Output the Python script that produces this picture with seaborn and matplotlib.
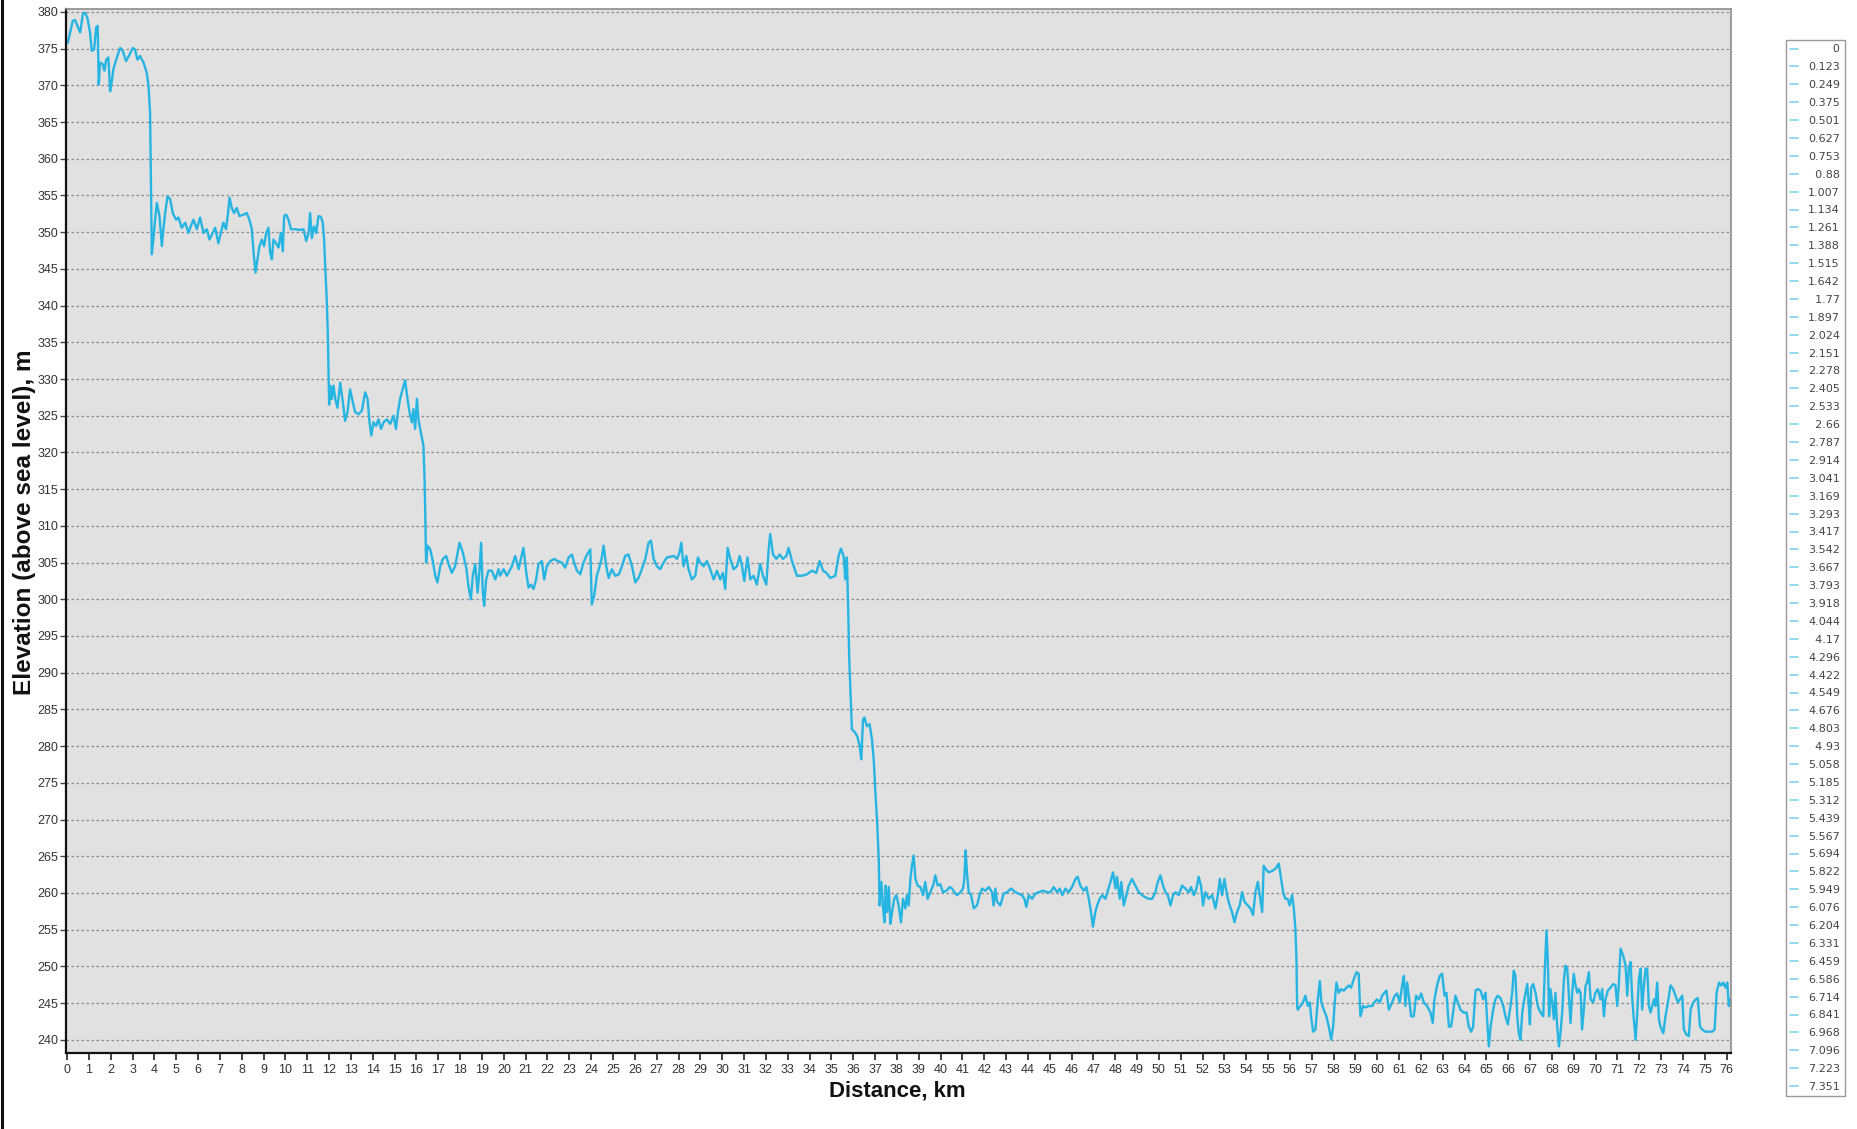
import matplotlib
matplotlib.use("Agg")
import matplotlib.pyplot as plt
from matplotlib.lines import Line2D
import numpy as np
import pandas as pd
import seaborn as sns

# ---------------- data ----------------
seg1_km = [0.03,0.14,0.26,0.37,0.47,0.60,0.72,0.82,0.93,1.05,1.13,1.24,1.33,1.40,1.45,1.51,1.63,1.71,1.79,1.89,
           1.97,2.05,2.12,2.28,2.43,2.55,2.70,2.86,3.01,3.11,3.22,3.34,3.50,3.65,3.73,3.80,3.83,3.88,3.95,4.03,
           4.11,4.23,4.34,4.41,4.49,4.60,4.72,4.84,4.99,5.10,5.25,5.41,5.56,5.66,5.79,5.94,6.09,6.25,6.40,6.52,
           6.67,6.78,6.93,7.04,7.16,7.28,7.37,7.44,7.54,7.65,7.77,7.89,8.08,8.23,8.35,8.46,8.54,8.63,8.72,8.81,
           8.92,9.02,9.12,9.22,9.30,9.38,9.45,9.57,9.68,9.79,9.88,9.94,10.03,10.14,10.25,10.44,10.67,10.83,10.95,11.06,
           11.13,11.21,11.31,11.41,11.51,11.62,11.71,11.77,11.82,11.89,11.94]
seg1_m = [375.8,377.2,378.8,378.9,378.1,377.2,379.7,379.9,379.2,377.2,374.7,374.9,377.9,378.1,370.1,373.1,372.9,372.0,373.5,373.8,
          369.2,370.6,372.2,373.8,375.1,374.7,373.3,374.2,375.1,374.9,373.5,374.0,373.1,371.7,369.9,366.3,359.0,347.0,349.0,351.7,
          354.0,352.2,348.1,350.4,352.6,354.9,354.5,352.6,351.7,352.0,350.6,351.3,349.9,350.8,351.7,350.4,352.0,349.9,350.4,349.0,
          349.9,350.6,348.5,349.9,351.3,350.4,352.6,354.7,353.3,352.6,353.3,352.2,352.4,352.6,351.7,350.4,347.2,344.5,346.3,348.1,
          349.0,348.1,349.9,350.6,347.2,346.3,349.0,348.5,347.9,349.9,347.4,352.2,352.4,351.7,350.4,350.4,350.3,350.4,348.8,349.9,
          352.6,349.2,350.8,349.9,352.2,352.1,351.3,349.0,345.4,340.8,336.3]

seg2_km = [12.00,12.05,12.12,12.20,12.28,12.38,12.51,12.63,12.73,12.84,12.96,13.09,13.19,13.35,13.50,13.65,13.76,13.85,13.93,14.03,
           14.15,14.26,14.38,14.49,14.64,14.80,14.95,15.06,15.15,15.25,15.41,15.48,15.59,15.68,15.79,15.86,15.94,16.02,16.09,16.20,
           16.32,16.37,16.41,16.44,16.51,16.63,16.75,16.86,16.96,17.09,17.21,17.36,17.47,17.62,17.77,17.97,18.12,18.28,18.38,18.49,
           18.58,18.69,18.80,18.89,18.96,19.04,19.10,19.19,19.30,19.45,19.61,19.76]
seg2_m = [326.5,329.1,327.3,329.1,327.3,326.1,329.5,326.8,324.3,325.5,328.6,326.8,325.5,325.2,325.7,328.2,327.3,324.1,322.3,324.1,
          323.6,324.5,323.2,324.1,324.5,323.9,325.0,323.2,325.5,327.3,329.1,329.8,327.3,325.5,324.1,325.9,323.2,327.3,324.5,322.7,
          320.9,316.4,310.5,305.0,307.3,306.8,305.2,303.2,302.3,304.5,305.5,305.9,304.8,303.6,304.5,307.7,306.4,304.3,301.8,300.0,
          303.2,304.8,300.9,304.1,307.7,300.9,299.1,302.7,303.9,303.9,302.7,304.1]

seg3_km = [19.83,19.99,20.14,20.37,20.52,20.68,20.78,20.90,21.03,21.13,21.24,21.36,21.48,21.59,21.74,21.85,21.97,22.13,22.31,22.46,
           22.66,22.81,22.97,23.12,23.22,23.35,23.50,23.65,23.81,23.96,24.03,24.14,24.26,24.39,24.49,24.57,24.69,24.80,24.95,25.10,
           25.27,25.41,25.56,25.71,25.87,26.02,26.17,26.32,26.48,26.63,26.74,26.86,27.01,27.16,27.32,27.47,27.62,27.78,27.93,28.05,
           28.13,28.23,28.36,28.46,28.61,28.77,28.89,28.99,29.15,29.30,29.45,29.61,29.76,29.91,30.03,30.14,30.25,30.37,30.52,30.68,
           30.80,30.91,31.01,31.16,31.29,31.44,31.59,31.74,31.87,32.02,32.13,32.20,32.33,32.48,32.63,32.78,32.94,33.04,33.20,33.42,
           33.65,33.88,34.11,34.31,34.46,34.62,34.77,34.95,35.18,35.33,35.44,35.56,35.64,35.71,35.76,35.82]
seg3_m = [303.2,304.1,303.2,304.5,305.9,304.1,305.5,307.0,303.6,301.6,302.0,301.4,302.7,304.8,305.2,302.7,304.5,305.2,305.5,305.2,
          305.0,304.3,305.7,306.1,305.0,303.9,303.4,305.0,306.1,306.8,299.3,300.5,303.2,304.5,305.7,307.3,304.5,302.9,304.1,303.2,
          303.4,304.5,305.9,306.1,304.5,302.3,302.9,304.1,305.5,307.7,308.0,305.5,304.5,304.1,305.0,305.7,305.8,305.9,305.5,306.4,
          307.7,304.5,305.9,304.1,302.7,303.2,305.7,305.0,304.5,305.2,304.1,302.7,303.9,302.7,303.6,301.4,307.0,305.5,304.1,304.5,
          305.9,304.5,302.5,305.7,302.7,303.2,302.0,304.8,303.2,302.0,306.8,308.9,306.1,305.5,306.1,305.5,305.9,307.0,305.2,303.2,
          303.2,303.4,303.9,303.6,305.2,303.9,303.6,302.9,303.2,305.9,306.9,305.9,302.7,305.7,300.0,291.8]

seg4_km = [35.94,36.10,36.20,36.30,36.37,36.45,36.51,36.63,36.75,36.86,36.94,37.01,37.09,37.17,37.21,37.29,37.36,37.43,37.49,37.55,
           37.63,37.70,37.78,37.88,37.98,38.08,38.19,38.28,38.39,38.46,38.54,38.62,38.69,38.77,38.85,38.95,39.08,39.20,39.30,39.41,
           39.53,39.66,39.76,39.87,39.99,40.11,40.27,40.42,40.53,40.63,40.75,40.91,41.03,41.09,41.15,41.21,41.29,41.40,41.52,41.67,
           41.79,41.90,42.05,42.21,42.36,42.43,42.51,42.59,42.74,42.89,43.05,43.23,43.43,43.58,43.73,43.84,43.93,44.04,44.19,44.34,
           44.50,44.69,44.88,45.03,45.18,45.34,45.46,45.58,45.72,45.87,46.02,46.18,46.28,46.40,46.56,46.68,46.79,46.89,46.98,47.09,
           47.17,47.29,47.40,47.55,47.66,47.78,47.90,48.01,48.08,48.21,48.28,48.39,48.51,48.62,48.77,48.92,49.08,49.23,49.38,49.54,
           49.69,49.84,49.95,50.07,50.19,50.30,50.41,50.53,50.65,50.76,50.91,51.06,51.21,51.37,51.47,51.60,51.72,51.82,51.93,52.02,
           52.13,52.28,52.44,52.59,52.70,52.79,52.89,53.00,53.12,53.24,53.35,53.46,53.58,53.70,53.81,53.92,54.07,54.19,54.31,54.42,
           54.53,54.62,54.73,54.80,54.88,55.03,55.18,55.34,55.49,55.57,55.69,55.79,55.90,55.99,56.10,56.18,56.25]
seg4_m = [282.3,281.8,281.2,280.0,278.2,283.6,283.9,282.7,283.0,280.9,278.2,274.1,270.1,264.6,258.3,261.5,258.3,256.0,261.0,257.4,
          260.8,255.8,257.4,259.2,259.7,258.3,256.0,259.2,257.9,259.7,258.3,261.9,263.7,265.1,261.9,261.0,260.8,259.7,261.5,259.2,
          260.1,261.0,262.4,261.0,261.2,260.1,260.3,260.8,260.6,260.1,259.7,260.1,260.6,261.9,265.8,262.8,260.1,259.7,257.9,258.3,
          259.7,260.6,260.3,260.8,260.1,258.3,260.6,258.8,258.3,259.9,260.1,260.6,260.1,259.9,259.7,259.2,258.1,259.7,259.2,259.9,
          260.1,260.3,260.1,260.1,260.8,260.1,260.6,259.7,260.6,260.1,260.8,261.9,262.2,261.0,260.3,260.8,259.2,257.4,255.4,257.4,
          258.3,259.2,259.7,259.2,260.3,261.5,262.8,260.6,262.2,259.2,261.5,258.3,259.7,261.0,261.9,261.0,260.1,259.7,259.4,259.2,
          259.2,260.1,261.5,262.4,261.0,260.1,259.7,258.3,259.7,260.1,259.7,261.0,260.6,260.1,260.8,259.7,260.6,262.2,261.0,258.3,
          260.1,259.2,259.7,257.9,259.7,261.9,259.7,261.9,259.7,258.3,257.4,256.0,257.4,258.3,260.1,258.8,258.3,257.9,257.0,260.1,
          261.5,259.7,257.4,263.7,263.3,262.8,263.0,263.3,264.0,262.4,260.1,259.2,259.2,258.3,259.7,257.9,255.1]

seg5_km = [56.30,56.33,56.36,56.48,56.60,56.71,56.82,56.91,56.97,57.06,57.17,57.28,57.37,57.44,57.55,57.67,57.78,57.89,57.98,58.04,
           58.13,58.24,58.35,58.47,58.59,58.70,58.80,58.93,59.05,59.15,59.23,59.35,59.46,59.61,59.77,59.87,59.99,60.12,60.22,60.33,
           60.42,60.53,60.68,60.80,60.91,61.03,61.14,61.22,61.29,61.37,61.48,61.55,61.67,61.78,61.90,62.01,62.13,62.28,62.44,62.54,
           62.62,62.74,62.86,62.97,63.08,63.17,63.28,63.38,63.51,63.58,63.69,63.81,63.96,64.09,64.19,64.30,64.39,64.50,64.61,64.73,
           64.85,64.96,65.03,65.11,65.19,65.31,65.41,65.52,65.64,65.77,65.87,65.98,66.10,66.18,66.25,66.33,66.41,66.48,66.56,66.64,
           66.71,66.79,66.87,66.94,66.99,67.05,67.14,67.25,67.35,67.48,67.60,67.67,67.75,67.81,67.87,67.93,68.01,68.09,68.16,68.24,
           68.32,68.39,68.47,68.55,68.62,68.70,68.77,68.85,68.93,69.00,69.08,69.16,69.23,69.31,69.38,69.46,69.54,69.61,69.69,69.77,
           69.89,69.99,70.10,70.22,70.30,70.38,70.45,70.56,70.68,70.81,70.91,70.99,71.06,71.14,71.26,71.37,71.45,71.52,71.60,71.68,
           71.75,71.83,71.90,71.98,72.06,72.13,72.21,72.29,72.36,72.44,72.52,72.59,72.67,72.74,72.82,72.90,72.97,73.10,73.20,73.31,
           73.43,73.55,73.66,73.77,73.86,73.97,74.04,74.16,74.27,74.35,74.47,74.58,74.68,74.78,74.88,75.03,75.19,75.34,75.45,75.54,
           75.65,75.75,75.84,75.95,76.03,76.10,76.15]
seg5_m = [251.0,244.6,244.1,244.6,245.1,246.0,244.6,245.1,243.2,241.1,241.4,245.5,248.0,245.1,244.1,243.2,241.8,240.0,241.8,244.6,
          247.8,246.4,246.9,246.7,247.1,247.4,247.1,248.3,249.2,249.0,243.2,244.6,244.4,244.6,244.6,245.1,245.5,245.1,246.0,246.4,
          246.7,244.1,245.1,246.0,246.3,245.1,247.4,248.7,244.6,247.8,245.1,243.2,243.2,246.0,245.5,246.3,245.1,244.6,243.7,242.3,
          245.5,247.4,248.7,249.0,246.0,246.4,241.8,241.8,244.6,246.0,245.1,244.1,243.7,243.7,241.8,241.1,241.8,246.7,246.9,246.7,
          245.5,246.4,242.8,239.1,241.8,244.1,245.5,246.0,245.7,244.6,243.2,242.1,244.6,246.4,249.4,248.7,243.2,240.9,240.0,243.7,
          245.1,246.4,247.6,244.6,242.1,247.1,247.6,246.4,244.6,243.7,243.2,249.2,254.9,251.0,243.2,246.9,245.1,242.8,246.4,241.8,
          239.1,240.9,243.7,248.3,250.1,249.7,246.4,242.3,246.4,249.0,247.4,246.4,246.9,246.4,241.4,244.1,247.4,247.8,249.2,245.5,
          245.1,246.4,246.9,245.5,246.9,243.2,245.5,246.7,247.1,247.6,247.4,244.6,247.4,252.4,251.5,250.1,246.0,249.7,250.6,245.5,
          242.8,240.0,243.2,248.3,249.7,244.1,247.4,249.7,249.7,244.6,243.7,244.6,245.5,244.6,247.8,242.8,241.8,240.9,243.2,245.1,
          247.4,246.9,246.0,245.1,245.5,246.0,241.4,240.7,240.5,244.1,245.1,245.5,245.7,241.8,241.4,241.1,241.1,241.1,241.4,246.4,
          247.8,247.4,247.8,247.1,247.8,244.6,245.5]

x_ticks = list(range(0, 77))
y_ticks = list(range(240, 381, 5))
legend_labels = ["0", "0.123", "0.249", "0.375", "0.501", "0.627", "0.753", "0.88", "1.007", "1.134",
                 "1.261", "1.388", "1.515", "1.642", "1.77", "1.897", "2.024", "2.151", "2.278", "2.405",
                 "2.533", "2.66", "2.787", "2.914", "3.041", "3.169", "3.293", "3.417", "3.542", "3.667",
                 "3.793", "3.918", "4.044", "4.17", "4.296", "4.422", "4.549", "4.676", "4.803", "4.93",
                 "5.058", "5.185", "5.312", "5.439", "5.567", "5.694", "5.822", "5.949", "6.076", "6.204",
                 "6.331", "6.459", "6.586", "6.714", "6.841", "6.968", "7.096", "7.223", "7.351"]

# ---------------- build table ----------------
df = pd.DataFrame({
    "Distance, km": np.concatenate([seg1_km, seg2_km, seg3_km, seg4_km, seg5_km]),
    "Elevation": np.concatenate([seg1_m, seg2_m, seg3_m, seg4_m, seg5_m]),
})

# ---------------- style ----------------
sns.set_style("white")
plt.rcParams["font.family"] = ["Liberation Sans Narrow", "Liberation Sans", "DejaVu Sans"]

LINE = "#26b4e2"
fig = plt.figure(figsize=(18.57, 11.29), dpi=100)
W, H = 1857, 1129
L, R, T, B = 66, 1731, 9, 1053
ax = fig.add_axes([L / W, (H - B) / H, (R - L) / W, (B - T) / H])
ax.set_facecolor("#e1e1e1")

sns.lineplot(data=df, x="Distance, km", y="Elevation", ax=ax, color=LINE,
             linewidth=1.7, estimator=None, sort=False, legend=False)

ax.set_xlim(-0.05, 76.2)
ax.set_ylim(238.2, 380.4)
ax.set_xticks(x_ticks)
ax.set_yticks(y_ticks)
ax.set_xticklabels([str(v) for v in x_ticks])
ax.set_yticklabels([str(v) for v in y_ticks])

ax.yaxis.grid(True, linestyle=(0, (2, 2)), color="#8a8a8a", linewidth=0.9)
ax.xaxis.grid(False)
ax.set_axisbelow(True)

ax.tick_params(axis="x", direction="out", length=5, width=1.2, color="#222222",
               labelsize=9, labelcolor="#333333", pad=3, bottom=True)
ax.tick_params(axis="y", direction="out", length=4, width=1.0, color="#444444",
               labelsize=9, labelcolor="#333333", pad=1.5, left=True)

for side in ["left", "bottom"]:
    ax.spines[side].set_color("#111111")
    ax.spines[side].set_linewidth(1.6)
for side in ["top", "right"]:
    ax.spines[side].set_color("#8c8c8c")
    ax.spines[side].set_linewidth(1.2)

ax.set_xlabel("Distance, km", fontsize=16, fontweight="bold",
              family=["Liberation Sans", "DejaVu Sans"], color="#111111")
ax.set_ylabel("Elevation (above sea level), m", fontsize=17.5, fontweight="bold",
              family=["Liberation Sans", "DejaVu Sans"], color="#111111")
ax.xaxis.set_label_coords((897 - L) / (R - L), -(1081 - B) / (B - T))
ax.yaxis.set_label_coords(-(L - 36) / (R - L), (B - 522) / (B - T))

# ---------------- legend ----------------
def pad_label(s):
    full = 5
    if "." not in s:
        return "\u2008\u2007\u2007\u2007" + s
    return "\u2007" * (full - len(s)) + s

handles = [Line2D([], [], color="#7fd3ee", linewidth=1.2) for _ in legend_labels]
leg = fig.legend(handles, [pad_label(s) for s in legend_labels],
                 loc="upper left", bbox_to_anchor=(1786 / W, (H - 40) / H),
                 bbox_transform=fig.transFigure, frameon=True,
                 fancybox=False, edgecolor="#999999", framealpha=1.0,
                 handlelength=0.7, handletextpad=0.9, labelspacing=0.71,
                 borderpad=0.4, borderaxespad=0.0,
                 prop={"family": ["DejaVu Sans"], "size": 8})
for t in leg.get_texts():
    t.set_color("#444444")
leg.get_frame().set_linewidth(1.0)

# screenshot frame edge on the left
fig.add_artist(Line2D([0.0012, 0.0012], [0, 1], transform=fig.transFigure,
                      color="#111111", linewidth=2.2))

fig.savefig("out.png", dpi=100, facecolor="white")
